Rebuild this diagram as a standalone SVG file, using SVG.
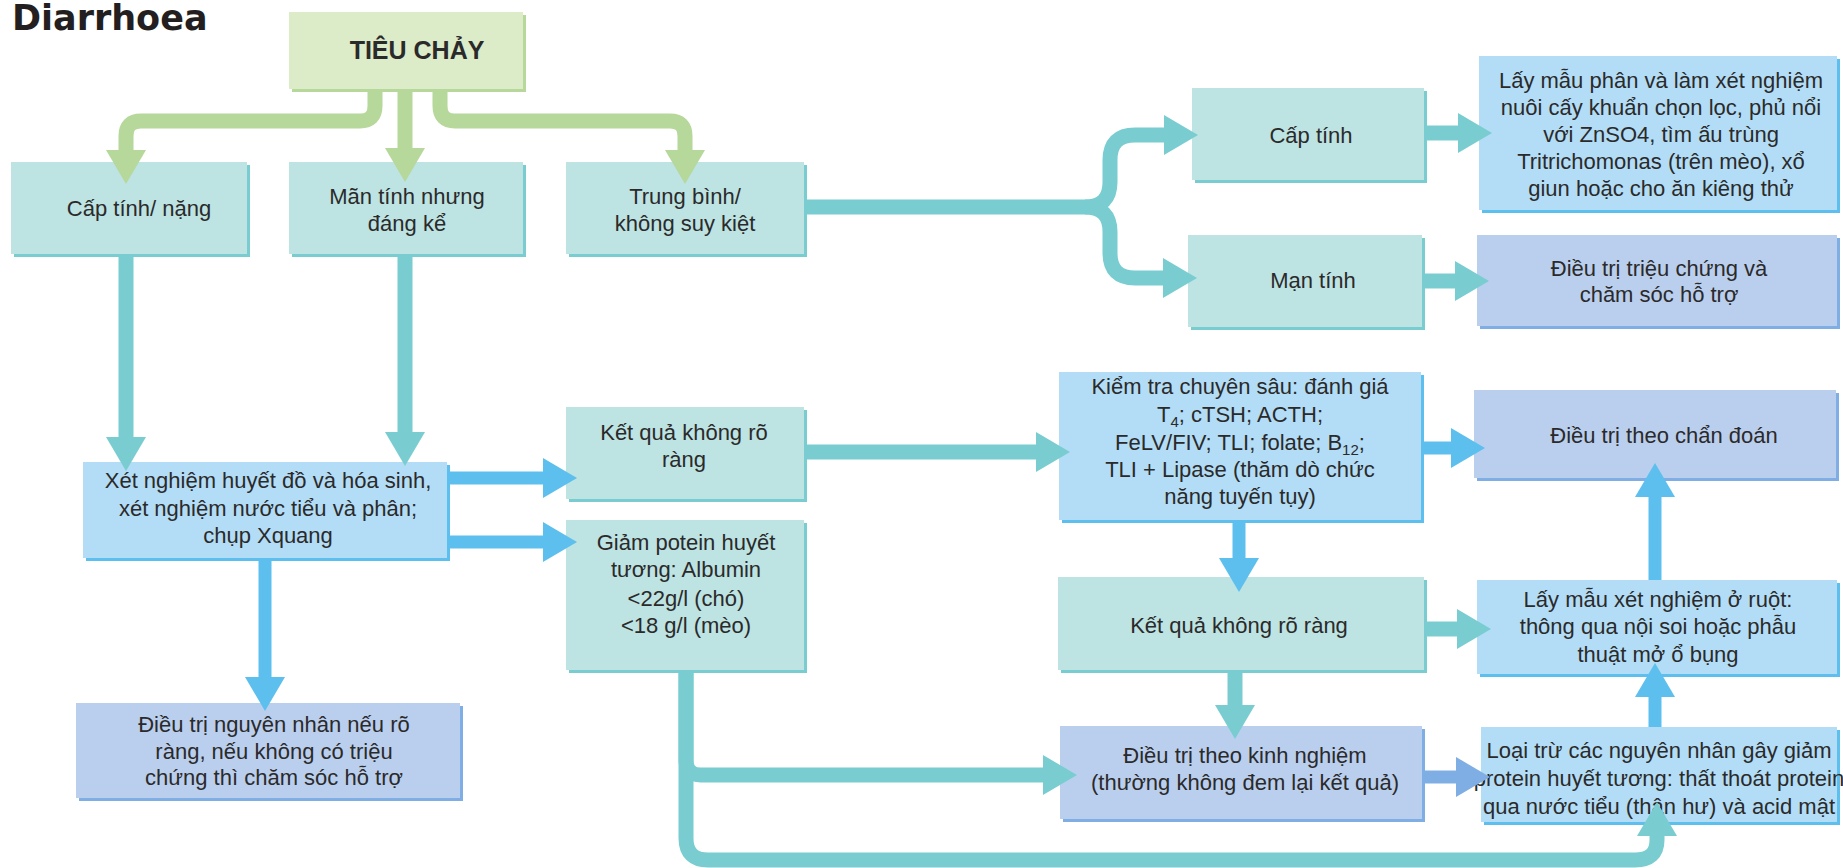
<svg xmlns="http://www.w3.org/2000/svg" width="1843" height="868" viewBox="0 0 1843 868">
<style>
text{font-family:"Liberation Sans",Arial,sans-serif;font-size:22px;fill:#2b2a2a;text-anchor:middle}
.title{font-family:"DejaVu Sans",sans-serif;font-weight:bold;font-size:35px;text-anchor:start;fill:#231f20}
.rt{font-weight:bold;font-size:25px}
.sub{font-size:15px}
.tf{fill:#bde3e3}.ts{fill:#79cdd0}
.bf{fill:#b3ddf6}.bs{fill:#5dbfed}
.lf{fill:#bacfee}.ls{fill:#7eaee3}
.gf{fill:#dcebc8}.gs{fill:#b6d89b}
.c{fill:none;stroke-linejoin:round}
.cg{stroke:#b6d89b;stroke-width:15;marker-end:url(#hg)}
.ct{stroke:#79cdd0;stroke-width:15;marker-end:url(#ht)}
.cb{stroke:#5dbfed;stroke-width:13;marker-end:url(#hb)}
.cl{stroke:#7eaee3;stroke-width:13;marker-end:url(#hl)}
.nm{marker-end:none}
</style>
<defs>
<marker id="hg" viewBox="0 0 34 40" refX="0" refY="20" markerWidth="34" markerHeight="40" markerUnits="userSpaceOnUse" orient="auto"><path d="M0,0 L34,20 L0,40 Z" fill="#b6d89b"/></marker>
<marker id="ht" viewBox="0 0 34 40" refX="0" refY="20" markerWidth="34" markerHeight="40" markerUnits="userSpaceOnUse" orient="auto"><path d="M0,0 L34,20 L0,40 Z" fill="#79cdd0"/></marker>
<marker id="hb" viewBox="0 0 34 40" refX="0" refY="20" markerWidth="34" markerHeight="40" markerUnits="userSpaceOnUse" orient="auto"><path d="M0,0 L34,20 L0,40 Z" fill="#5dbfed"/></marker>
<marker id="hl" viewBox="0 0 34 40" refX="0" refY="20" markerWidth="34" markerHeight="40" markerUnits="userSpaceOnUse" orient="auto"><path d="M0,0 L34,20 L0,40 Z" fill="#7eaee3"/></marker>
</defs>
<rect width="1843" height="868" fill="#ffffff"/>
<text class="title" x="12" y="30">Diarrhoea</text>

<g id="n_root"><rect class="gs" x="292" y="15" width="234" height="77"/><rect class="gf" x="289" y="12" width="234" height="77"/><text class="rt" x="417" y="59">TIÊU CHẢY</text></g>

<g id="n_acute_severe"><rect class="ts" x="14" y="165" width="236" height="92"/><rect class="tf" x="11" y="162" width="236" height="92"/><text x="139" y="216">Cấp tính/ nặng</text></g>

<g id="n_chronic"><rect class="ts" x="292" y="165" width="234" height="92"/><rect class="tf" x="289" y="162" width="234" height="92"/><text x="407" y="204">Mãn tính nhưng</text><text x="407" y="231">đáng kể</text></g>

<g id="n_moderate"><rect class="ts" x="569" y="165" width="238" height="92"/><rect class="tf" x="566" y="162" width="238" height="92"/><text x="685" y="204">Trung bình/</text><text x="685" y="231">không suy kiệt</text></g>

<g id="n_acute"><rect class="ts" x="1195" y="91" width="232" height="92"/><rect class="tf" x="1192" y="88" width="232" height="92"/><text x="1311" y="143">Cấp tính</text></g>

<g id="n_stool"><rect class="bs" x="1482" y="59" width="358" height="154"/><rect class="bf" x="1479" y="56" width="358" height="154"/><text x="1661" y="88">Lấy mẫu phân và làm xét nghiệm</text><text x="1661" y="115">nuôi cấy khuẩn chọn lọc, phủ nổi</text><text x="1661" y="142">với ZnSO4, tìm ấu trùng</text><text x="1661" y="169">Tritrichomonas (trên mèo), xổ</text><text x="1661" y="196">giun hoặc cho ăn kiêng thử</text></g>

<g id="n_chronic2"><rect class="ts" x="1191" y="238" width="234" height="92"/><rect class="tf" x="1188" y="235" width="234" height="92"/><text x="1313" y="288">Mạn tính</text></g>

<g id="n_symptomatic"><rect class="ls" x="1480" y="238" width="360" height="91"/><rect class="lf" x="1477" y="235" width="360" height="91"/><text x="1659" y="276">Điều trị triệu chứng và</text><text x="1659" y="302">chăm sóc hỗ trợ</text></g>

<g id="n_tests"><rect class="bs" x="86" y="465" width="364" height="96"/><rect class="bf" x="83" y="462" width="364" height="96"/><text x="268" y="488">Xét nghiệm huyết đồ và hóa sinh,</text><text x="268" y="516">xét nghiệm nước tiểu và phân;</text><text x="268" y="543">chụp Xquang</text></g>

<g id="n_unclear1"><rect class="ts" x="569" y="410" width="238" height="92"/><rect class="tf" x="566" y="407" width="238" height="92"/><text x="684" y="440">Kết quả không rõ</text><text x="684" y="467">ràng</text></g>

<g id="n_hypoprotein"><rect class="ts" x="569" y="523" width="238" height="150"/><rect class="tf" x="566" y="520" width="238" height="150"/><text x="686" y="550">Giảm potein huyết</text><text x="686" y="577">tương: Albumin</text><text x="686" y="606">&lt;22g/l (chó)</text><text x="686" y="633">&lt;18 g/l (mèo)</text></g>

<g id="n_treat_cause"><rect class="ls" x="79" y="706" width="384" height="95"/><rect class="lf" x="76" y="703" width="384" height="95"/><text x="274" y="732">Điều trị nguyên nhân nếu rõ</text><text x="274" y="759">ràng, nếu không có triệu</text><text x="274" y="785">chứng thì chăm sóc hỗ trợ</text></g>

<g id="n_deep_tests"><rect class="bs" x="1062" y="375" width="362" height="148"/><rect class="bf" x="1059" y="372" width="362" height="148"/><text x="1240" y="394">Kiểm tra chuyên sâu: đánh giá</text><text x="1240" y="422">T<tspan class="sub" dy="5">4</tspan><tspan dy="-5">; cTSH; ACTH;</tspan></text><text x="1240" y="450">FeLV/FIV; TLI; folate; B<tspan class="sub" dy="5">12</tspan><tspan dy="-5">;</tspan></text><text x="1240" y="477">TLI + Lipase (thăm dò chức</text><text x="1240" y="504">năng tuyến tụy)</text></g>

<g id="n_treat_dx"><rect class="ls" x="1477" y="393" width="362" height="88"/><rect class="lf" x="1474" y="390" width="362" height="88"/><text x="1664" y="443">Điều trị theo chẩn đoán</text></g>

<g id="n_unclear2"><rect class="ts" x="1061" y="580" width="366" height="93"/><rect class="tf" x="1058" y="577" width="366" height="93"/><text x="1239" y="633">Kết quả không rõ ràng</text></g>

<g id="n_biopsy"><rect class="bs" x="1480" y="583" width="360" height="94"/><rect class="bf" x="1477" y="580" width="360" height="94"/><text x="1658" y="607">Lấy mẫu xét nghiệm ở ruột:</text><text x="1658" y="634">thông qua nội soi hoặc phẫu</text><text x="1658" y="662">thuật mở ổ bụng</text></g>

<g id="n_empirical"><rect class="ls" x="1063" y="729" width="362" height="93"/><rect class="lf" x="1060" y="726" width="362" height="93"/><text x="1245" y="763">Điều trị theo kinh nghiệm</text><text x="1245" y="790">(thường không đem lại kết quả)</text></g>

<g id="n_exclude"><rect class="bs" x="1484" y="730" width="356" height="95"/><rect class="bf" x="1481" y="727" width="356" height="95"/><text x="1659" y="758">Loại trừ các nguyên nhân gây giảm</text><text x="1659" y="786">protein huyết tương: thất thoát protein</text><text x="1659" y="814">qua nước tiểu (thận hư) và acid mật</text></g>

<g id="connectors">
<path class="c cg" d="M375,90 V106 Q375,121 360,121 H141 Q126,121 126,136 V150"/>
<path class="c cg" d="M405,90 V148"/>
<path class="c cg" d="M440,90 V106 Q440,121 455,121 H670 Q685,121 685,136 V150"/>
<path class="c ct" d="M126,257 V437"/>
<path class="c ct" d="M405,257 V432"/>
<path class="c ct" d="M806,207 H1085 Q1110,207 1110,182 V160 Q1110,135 1135,135 H1164"/>
<path class="c ct" d="M1085,207 Q1110,207 1110,232 V253 Q1110,278 1135,278 H1163"/>
<path class="c ct" d="M1427,133 H1458"/>
<path class="c ct" d="M1425,281 H1455"/>
<path class="c cb" d="M450,478 H543"/>
<path class="c cb" d="M450,542 H543"/>
<path class="c cb" d="M265,561 V677"/>
<path class="c ct" d="M807,452 H1036"/>
<path class="c cb" d="M1424,448 H1451"/>
<path class="c cb" d="M1239,523 V558"/>
<path class="c cb" d="M1655,580 V497"/>
<path class="c ct" d="M1427,629 H1457"/>
<path class="c ct" d="M1235,673 V705"/>
<path class="c cl" d="M1425,777 H1456"/>
<path class="c cb" d="M1655,727 V697"/>
<path class="c ct" d="M686,673 V760 Q686,775 701,775 H1043"/>
<path class="c ct" d="M686,673 V838 Q686,860 708,860 H1635 Q1657,860 1657,840 V836"/>
</g>
</svg>
